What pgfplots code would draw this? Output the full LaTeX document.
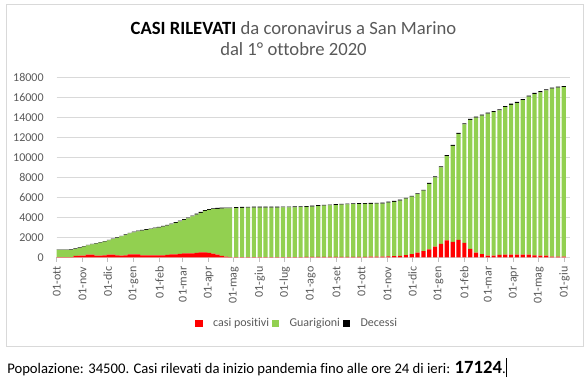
\documentclass[border=0pt]{standalone}
\usepackage{pgfplots}
\pgfplotsset{compat=1.18}
\usepackage{pgfplotstable}
\usepackage{fontspec}
\setmainfont{Carlito}[Ligatures=NoCommon]
\definecolor{txtgray}{HTML}{595959}
\definecolor{gridgray}{HTML}{D9D9D9}
\definecolor{tickgray}{HTML}{BFBFBF}
\definecolor{verde}{HTML}{92D050}
\definecolor{rosso}{HTML}{FF0000}
\pgfplotsset{mylegend/.style={legend image code/.code={\fill[##1] (0pt,-2.7pt) rectangle (5.4pt,2.7pt);}}}

\pgfplotstableread{
x P G D
2.5 20 718 42
7.5 20 718 42
12.5 20 718 42
17.5 20 728 42
22.5 150 705 45
27.5 170 785 45
32.5 180 895 45
37.5 270 925 45
42.5 270 1025 45
47.5 180 1190 50
52.5 170 1290 50
57.5 200 1370 50
62.5 270 1420 50
67.5 270 1540 50
72.5 200 1742 58
77.5 180 1902 58
82.5 200 2032 58
87.5 300 2082 58
92.5 300 2202 58
97.5 300 2302 58
102.5 200 2474 66
107.5 200 2554 66
112.5 200 2614 66
117.5 200 2694 66
122.5 200 2774 66
127.5 200 2874 66
132.5 250 2924 66
137.5 300 2995 75
142.5 300 3145 75
147.5 350 3255 75
152.5 400 3355 75
157.5 400 3505 75
162.5 400 3685 75
167.5 450 3825 85
172.5 500 3955 85
177.5 500 4135 85
182.5 450 4295 85
187.5 370 4445 85
192.5 270 4585 85
197.5 150 4725 85
202.5 80 4805 85
207.5 20 4865 85
215 30 4890 90
222 20 4930 90
229 15 4945 90
236 10 4960 90
243 10 4965 90
250 10 4970 90
257 10 4970 90
264 10 4970 90
271 10 4975 90
278 15 4975 90
285 20 4975 90
292 30 4980 90
299 40 5000 90
306 50 5030 90
313 50 5070 90
320 50 5110 90
327 50 5140 90
334 50 5170 90
341 50 5210 90
348 50 5240 90
355 50 5260 90
362 50 5270 90
369 50 5290 90
376 60 5290 90
383 70 5290 90
390 80 5300 90
397 100 5380 90
404 130 5420 90
411 150 5520 90
418 230 5630 90
425 330 5730 90
432 470 5838 92
439 630 6026 94
446 800 6554 96
453 1070 6932 98
460 1350 7650 100
467 1700 8428 102
474 1550 9596 104
481 1750 10594 106
488 1450 11842 108
495 850 12890 110
502 470 13499 111
509 330 13838 112
516 170 14188 112
523 170 14337 113
530 250 14437 113
537 270 14736 114
544 270 14976 114
551 270 15155 115
558 270 15445 115
565 270 15795 115
572 200 16124 116
579 170 16334 116
586 170 16514 116
593 80 16783 117
600 70 16893 117
607 70 16937 117
}\casi

\begin{document}
\begin{tikzpicture}[x=1pt,y=1pt]
\path[use as bounding box] (0,0) rectangle (438.75,287.25);
\draw[gridgray, line width=0.75pt] (4.5,27.4) rectangle (437.4,283.6);
\node[font=\fontsize{14}{16}\selectfont, text=txtgray, inner sep=0] at (220.1,266.5)
  {\textbf{\color{black}CASI RILEVATI} da coronavirus a San Marino};
\node[font=\fontsize{14}{16}\selectfont, text=txtgray, inner sep=0] at (220.1,250.5)
  {dal 1° ottobre 2020};
\begin{axis}[
  at={(42.525pt,94.275pt)}, anchor=south west,
  width=384.675pt, height=135pt, scale only axis,
  ybar stacked, bar width=5,
  xmin=0, xmax=614, ymin=0, ymax=18000,
  enlargelimits=false,
  axis x line*=bottom, axis y line*=left,
  x axis line style={gridgray, line width=0.75pt},
  y axis line style={draw=none},
  ymajorgrids, grid style={gridgray, line width=0.75pt},
  ytick={0,2000,...,18000},
  ytick style={draw=none},
  xtick={0,31,61,92,123,151,182,212,243,273,304,335,365,396,426,457,488,516,547,577,608},
  xticklabels={01-ott,01-nov,01-dic,01-gen,01-feb,01-mar,01-apr,01-mag,01-giu,01-lug,01-ago,01-set,01-ott,01-nov,01-dic,01-gen,01-feb,01-mar,01-apr,01-mag,01-giu},
  xtick style={tickgray, line width=0.75pt},
  tick align=outside, major tick length=3.5pt,
  scaled y ticks=false,
  /pgf/number format/assume math mode=true,
  /pgf/number format/1000 sep={},
  tick label style={font=\fontsize{9}{10}\selectfont, text=txtgray},
  xticklabel style={rotate=90, anchor=east},
  yticklabel style={xshift=-2.75pt},
  legend style={at={(0.4695,-0.368)}, anchor=center, draw=none, fill=none,
    legend columns=3, font=\fontsize{9}{10}\selectfont, text=txtgray,
    /tikz/every odd column/.append style={column sep=6pt}},
]
\addplot[fill=rosso, draw=none, mylegend] table[x=x, y=P] {\casi};
\addlegendentry{casi positivi}
\addplot[fill=verde, draw=none, mylegend] table[x=x, y=G] {\casi};
\addlegendentry{Guarigioni}
\addplot[fill=black, draw=none, mylegend] table[x=x, y=D] {\casi};
\addlegendentry{Decessi}
\end{axis}
\node[anchor=base west, inner sep=0, font=\fontsize{11}{13}\selectfont] at (5.25,7.5)
  {Popolazione: 34500. Casi rilevati da inizio pandemia fino alle ore 24 di ieri: {\fontsize{14}{16}\selectfont\textbf{17124}}.\rule[-3pt]{0.7pt}{14pt}};
\end{tikzpicture}
\end{document}
